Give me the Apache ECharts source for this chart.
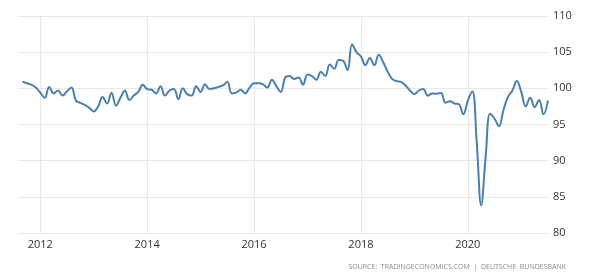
<!DOCTYPE html>
<html>
<head>
<meta charset="utf-8">
<script src="https://cdn.jsdelivr.net/npm/echarts@6/dist/echarts.min.js"></script>
<style>html,body{margin:0;padding:0;background:#fff}#c{width:602px;height:280px}</style>
</head>
<body>
<div id="c"></div>
<script>
// Monthly categories: Aug 2011 .. Jul 2021 (first is an empty lead-in month)
const startYear = 2011, startMonth = 8, monthCount = 120;
const months = [];
for (let i = 0; i < monthCount; i++) {
  const mi = startMonth - 1 + i;
  const y = startYear + Math.floor(mi / 12);
  const m = (mi % 12) + 1;
  months.push(y + '-' + (m < 10 ? '0' + m : '' + m));
}
const values2011 = [null, 100.9, 100.7, 100.5, 100.1];
const values2012 = [99.4, 98.7, 100.2, 99.3, 99.7, 99.0, 99.6, 100.1, 98.3, 98.0, 97.7, 97.3];
const values2013 = [96.8, 97.5, 98.8, 97.9, 99.4, 97.6, 98.7, 99.7, 98.4, 99.0, 99.5, 100.5];
const values2014 = [99.9, 99.8, 99.3, 100.3, 99.0, 99.7, 99.9, 98.5, 100.0, 99.2, 99.0, 100.3];
const values2015 = [99.5, 100.55, 99.9, 100.0, 100.2, 100.4, 100.9, 99.3, 99.4, 99.8, 99.3, 100.1];
const values2016 = [100.7, 100.7, 100.55, 100.1, 101.2, 100.3, 99.5, 101.5, 101.7, 101.3, 101.5, 100.5];
const values2017 = [101.9, 101.7, 101.2, 102.3, 101.7, 103.3, 102.7, 103.9, 103.8, 102.5, 106.1, 105.0];
const values2018 = [104.4, 103.2, 104.2, 103.2, 104.65, 103.6, 102.3, 101.3, 101.0, 100.9, 100.4, 99.7];
const values2019 = [99.2, 99.7, 99.9, 99.0, 99.3, 99.25, 99.35, 98.0, 98.2, 97.9, 97.8, 96.4];
const values2020 = [98.3, 99.6, 92.5, 83.8, 90.5, 96.5, 95.8, 94.75, 97.0, 98.8, 99.7, 101.0];
const values2021 = [99.5, 97.5, 98.7, 97.4, 98.4, 96.4, 98.3];
const values = [].concat(values2011, values2012, values2013, values2014, values2015,
  values2016, values2017, values2018, values2019, values2020, values2021);

const yMin = 80, yMax = 110, yStep = 5;
const sourceText = 'SOURCE:  TRADINGECONOMICS.COM  |  DEUTSCHE  BUNDESBANK';

function isEvenJan(idx, val) {
  const s = months[idx];
  return s.slice(5) === '01' && (parseInt(s.slice(0, 4)) % 2 === 0);
}

const chart = echarts.init(document.getElementById('c'));
chart.setOption({
  animation: false,
  grid: { left: 18, right: 54, top: 16, bottom: 47, containLabel: false },
  xAxis: {
    type: 'category',
    data: months,
    boundaryGap: false,
    axisLine: { show: false },
    axisTick: { show: false },
    axisLabel: {
      interval: isEvenJan,
      formatter: v => v.slice(0, 4),
      color: '#333',
      fontFamily: 'Open Sans',
      fontSize: 11,
      margin: 6
    },
    splitLine: { show: true, interval: isEvenJan, lineStyle: { color: '#e8e8e8', width: 1 } }
  },
  yAxis: {
    type: 'value',
    position: 'right',
    min: yMin, max: yMax, interval: yStep,
    axisLine: { show: false },
    axisTick: { show: false },
    axisLabel: { color: '#333', fontFamily: 'Open Sans', fontSize: 11, margin: 5 },
    splitLine: { lineStyle: { color: '#e8e8e8', width: 1 } }
  },
  series: [{
    type: 'line',
    data: values,
    smooth: 0.4,
    showSymbol: false,
    connectNulls: false,
    lineStyle: { color: '#4a80aa', width: 2 },
    itemStyle: { color: '#4a80aa' }
  }],
  graphic: [{
    type: 'text',
    right: 36,
    top: 263,
    style: { text: sourceText, fill: '#8a8a8a', font: '7px "Open Sans"' }
  }]
});
</script>
</body>
</html>
